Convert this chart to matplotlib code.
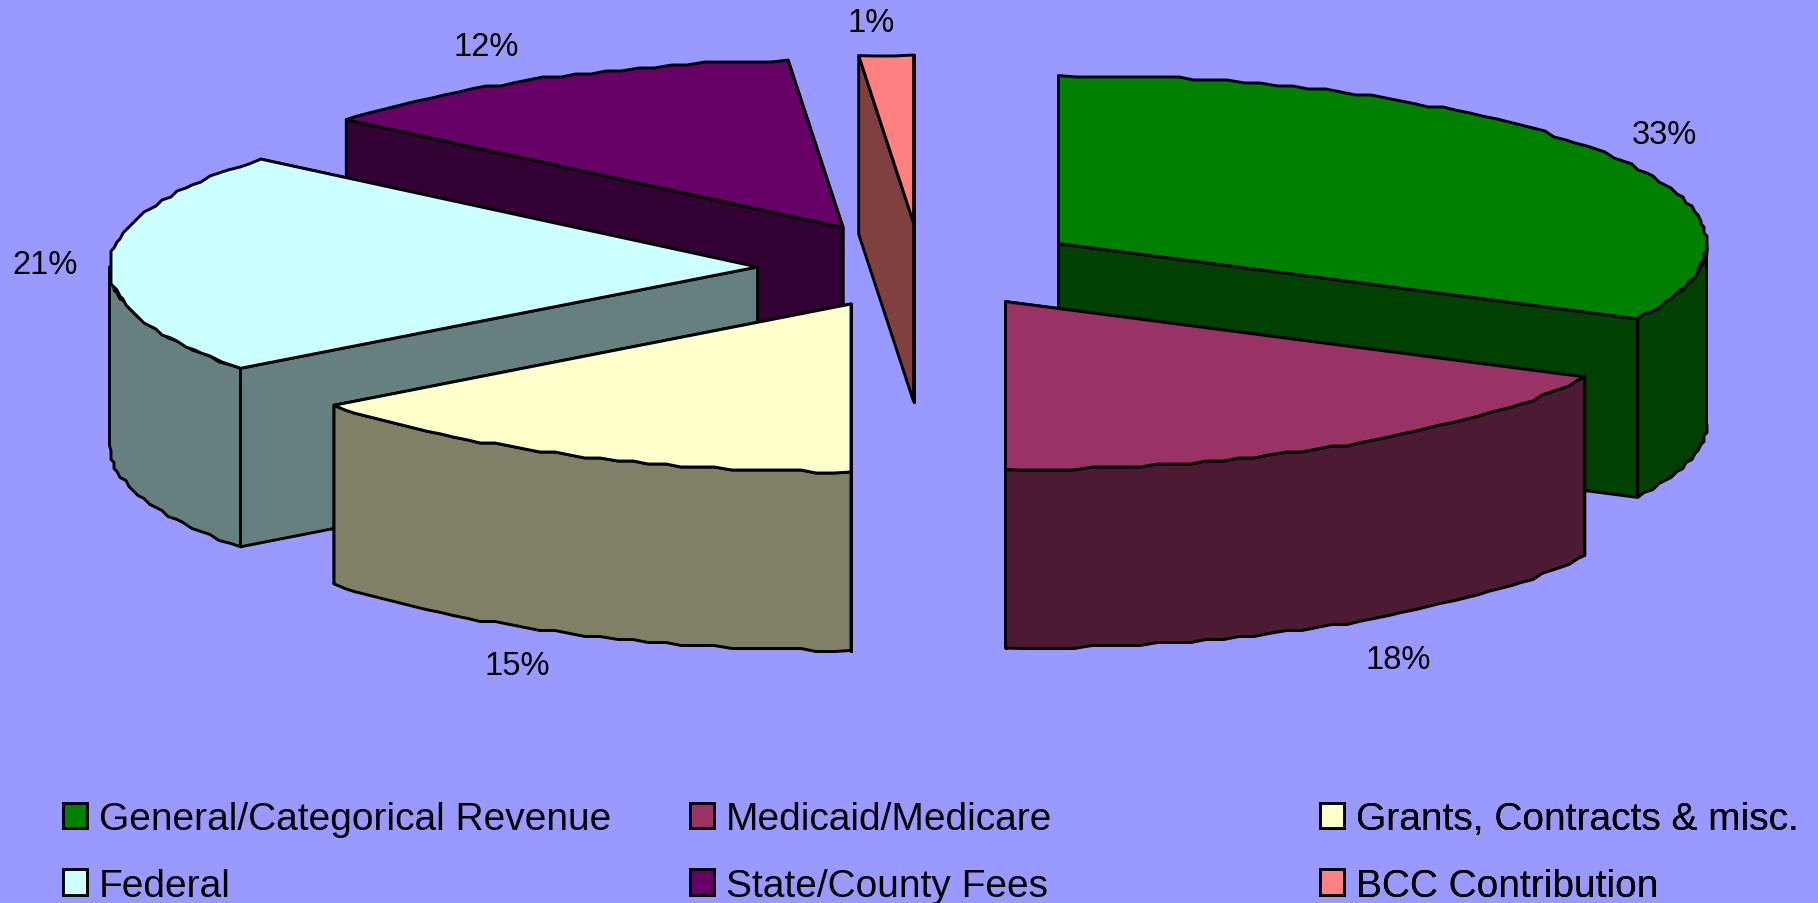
import numpy as np
import matplotlib
matplotlib.use("Agg")
import matplotlib.pyplot as plt
from matplotlib.patches import Polygon, Patch

# ---- data ----
categories = ["General/Categorical Revenue", "Medicaid/Medicare", "Grants, Contracts & misc.",
              "Federal", "State/County Fees", "BCC Contribution"]
shares = [32.4, 17.6, 14.7, 21.4, 12.55, 1.35]
pct_labels = ["33%", "18%", "15%", "21%", "12%", "1%"]

# ---- style / layout ----
top_colors = ["#008000", "#993366", "#FFFFCC", "#CCFFFF", "#660066", "#FF8080"]
side_colors = ["#004000", "#4D1A33", "#808066", "#668080", "#330033", "#804040"]
BG = "#9999FF"
RX, RY, DEPTH = 648.0, 168.0, 178.5
LW = 2.1
centers = [(1058.5, 244.6), (1005.5, 302.6), (851.0, 305.0),
           (757.5, 268.0), (843.0, 228.5), (913.6, 224.0)]
label_pos = [(1664, 136), (1398, 661), (517, 667), (45, 266), (486, 48), (871, 23)]
paint_order = [5, 4, 0, 3, 1, 2]
GRID = 3.0
FONT = "Liberation Sans"

fig = plt.figure(figsize=(18.18, 9.04), dpi=100, facecolor=BG)
ax = fig.add_axes([0, 0, 1, 1])
ax.set_xlim(0, 1818)
ax.set_ylim(904, 0)
ax.axis("off")


def arc(cx, cy, a0, a1):
    """Stepped elliptical arc from angle a0 to a1 (degrees), a1 < a0."""
    n = max(2, int(abs(a0 - a1) / 1.5) + 1)
    t = np.radians(np.linspace(a0, a1, n))
    x = cx + RX * np.cos(t)
    y = cy - RY * np.sin(t)
    qx = np.round(x / GRID) * GRID
    qy = np.round(y / GRID) * GRID
    qx[[0, -1]] = x[[0, -1]]
    qy[[0, -1]] = y[[0, -1]]
    return np.column_stack([qx, qy])


def add(pts, color, z):
    ax.add_patch(Polygon(pts, closed=True, facecolor=color, edgecolor="black",
                         linewidth=LW, joinstyle="round", zorder=z))


fractions = np.array(shares) / np.sum(shares)
ends = 90 - 360 * np.cumsum(fractions)
starts = np.concatenate([[90], ends[:-1]])
down = np.array([0, DEPTH])

z = 1
for i in paint_order:
    cx, cy = centers[i]
    c = np.array([cx, cy])
    a0, a1 = starts[i], ends[i]
    top_arc = arc(cx, cy, a0, a1)
    p0, p1 = top_arc[0], top_arc[-1]
    # radial faces, farther one first
    for p in sorted([p0, p1], key=lambda p: p[1]):
        add([c, p, p + down, c + down], side_colors[i], z)
        z += 1
    # outer rim: only the part on the near half of the ellipse (-180..0 degrees)
    hi_a, lo_a = min(a0, 0), max(a1, -180)
    if hi_a > lo_a:
        rim = arc(cx, cy, hi_a, lo_a)
        add(np.vstack([rim, (rim + down)[::-1]]), side_colors[i], z)
        z += 1
    add(np.vstack([c, top_arc]), top_colors[i], z)
    z += 1

for txt, (x, y) in zip(pct_labels, label_pos):
    ax.text(x, y, txt, ha="center", va="center", fontsize=23.5, family=FONT,
            color="black", zorder=100)

handles = [Patch(facecolor=col, edgecolor="black", linewidth=LW) for col in top_colors]
legend_x = [63, 690, 1320]
for col, lx in enumerate(legend_x):
    idx = [col, col + 3]
    leg = ax.legend([handles[k] for k in idx], [categories[k] for k in idx],
                    loc="upper left", bbox_to_anchor=(lx, 802), bbox_transform=ax.transData,
                    frameon=False, prop={"family": FONT, "size": 28},
                    handlelength=0.62, handleheight=0.62, handletextpad=0.30,
                    labelspacing=0.79, borderpad=0, borderaxespad=0, ncols=1)
    ax.add_artist(leg)

fig.savefig("out.png", dpi=100, facecolor=BG)
